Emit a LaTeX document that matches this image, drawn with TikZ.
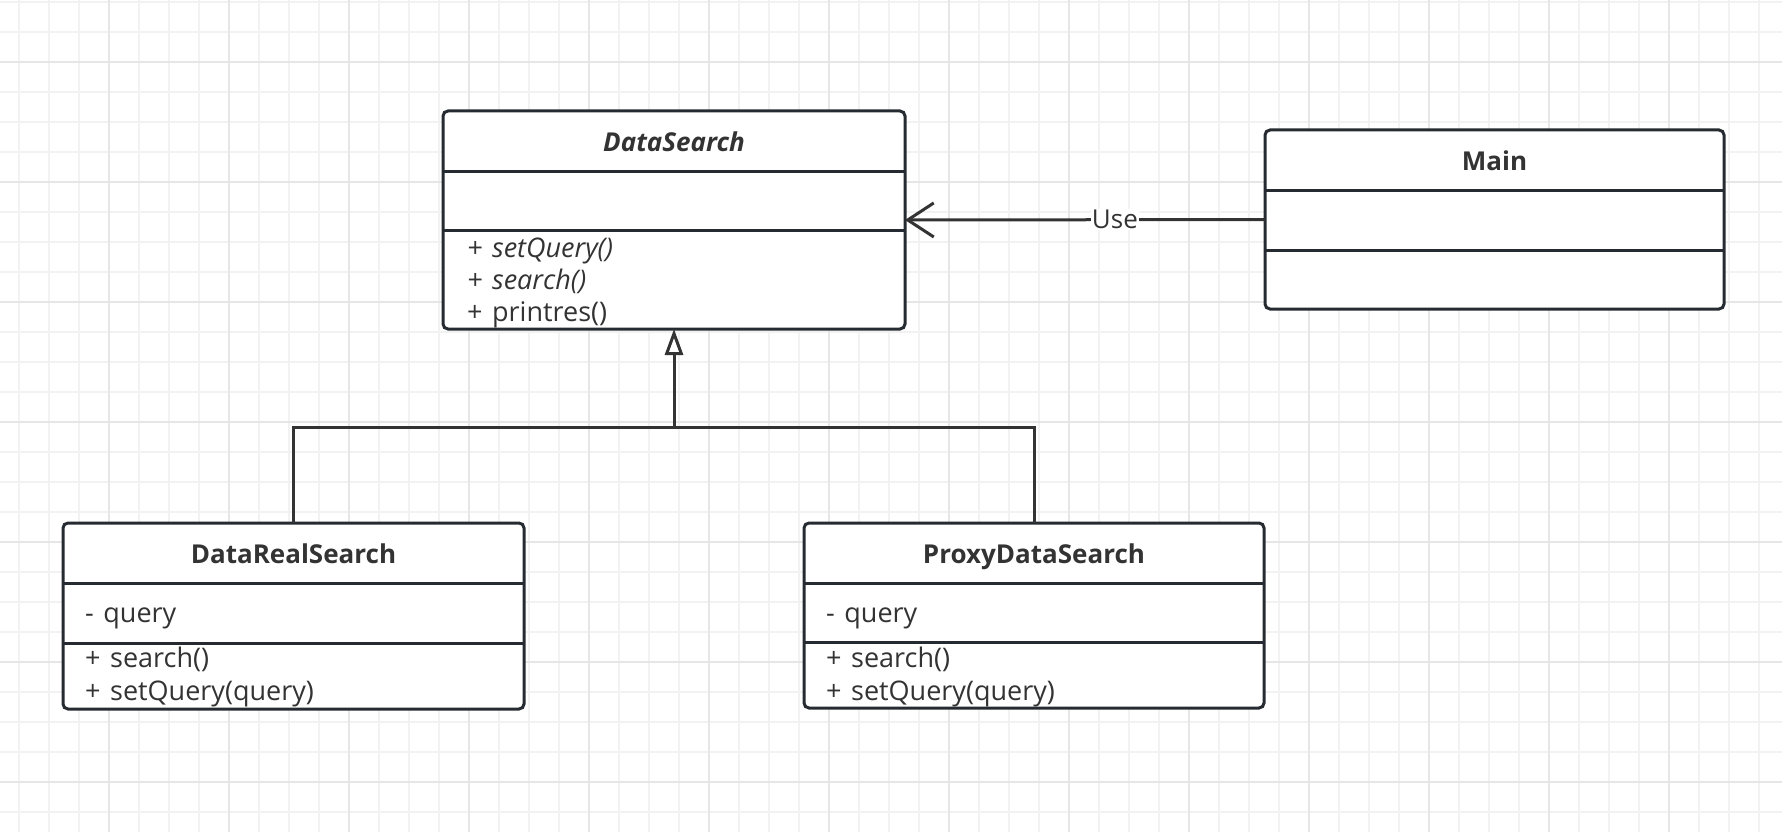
\documentclass[tikz,border=0pt]{standalone}
\usepackage{fontspec}
\setmainfont{Open Sans}
\usetikzlibrary{arrows.meta,calc}
\definecolor{stroke}{HTML}{262B31}
\definecolor{txt}{HTML}{333333}
\definecolor{gridminor}{HTML}{F2F2F2}
\definecolor{gridmajor}{HTML}{E6E6E6}
\newcommand\vis[1]{#1\hspace{9.5pt}}
\tikzset{
  classbox/.style={draw=stroke, line width=3pt, fill=white, rounded corners=5pt, inner sep=0pt, outer sep=0pt, anchor=north west},
  divider/.style={draw=stroke, line width=3pt},
  titletext/.style={text=txt, font=\fontsize{26}{30}\selectfont\bfseries, inner sep=0pt, anchor=base},
  membertext/.style={text=txt, font=\fontsize{27}{32}\selectfont, inner sep=0pt, anchor=base west},
  conn/.style={draw=txt, line width=3pt},
  uselabel/.style={fill=white, text=txt, font=\fontsize{26}{30}\selectfont, inner sep=1pt},
}
\begin{document}
\begin{tikzpicture}[x=1pt,y=-1pt]
\useasboundingbox (0,0) rectangle (1782,832);
\fill[white] (0,0) rectangle (1782,832);
% grid
\foreach \x in {19,49,...,1782} \draw[gridminor, line width=1.6pt] (\x,0) -- (\x,832);
\foreach \y in {2,32,...,832} \draw[gridminor, line width=1.6pt] (0,\y) -- (1782,\y);
\foreach \x in {109,229,...,1782} \draw[gridmajor, line width=1.6pt] (\x,0) -- (\x,832);
\foreach \y in {62,182,...,832} \draw[gridmajor, line width=1.6pt] (0,\y) -- (1782,\y);

% DataSearch
\node[classbox, minimum width=462pt, minimum height=218pt] (ds) at (443,111) {};
\draw[divider] ($(ds.north west)+(0,60)$) -- ($(ds.north east)+(0,60)$);
\draw[divider] ($(ds.north west)+(0,119)$) -- ($(ds.north east)+(0,119)$);
\node[titletext] (dsT) at (674,151) {\itshape DataSearch};
\node[membertext] (dsM1) at (467,257) {\itshape \vis{+}setQuery()};
\node[membertext] (dsM2) at (467,289) {\itshape \vis{+}search()};
\node[membertext] (dsM3) at (467,321) {\vis{+}printres()};

% Main
\node[classbox, minimum width=459pt, minimum height=179pt] (main) at (1265,130) {};
\draw[divider] ($(main.north west)+(0,60)$) -- ($(main.north east)+(0,60)$);
\draw[divider] ($(main.north west)+(0,120)$) -- ($(main.north east)+(0,120)$);
\node[titletext] (mainT) at (1494.5,170) {Main};

% DataRealSearch
\node[classbox, minimum width=461pt, minimum height=186pt] (drs) at (63,523) {};
\draw[divider] ($(drs.north west)+(0,60)$) -- ($(drs.north east)+(0,60)$);
\draw[divider] ($(drs.north west)+(0,120)$) -- ($(drs.north east)+(0,120)$);
\node[titletext] (drsT) at (293.5,563) {DataRealSearch};
\node[membertext] (drsA) at (85,622) {\vis{-}query};
\node[membertext] (drsM1) at (85,667) {\vis{+}search()};
\node[membertext] (drsM2) at (85,700) {\vis{+}setQuery(query)};

% ProxyDataSearch
\node[classbox, minimum width=460pt, minimum height=185pt] (pds) at (804,523) {};
\draw[divider] ($(pds.north west)+(0,60)$) -- ($(pds.north east)+(0,60)$);
\draw[divider] ($(pds.north west)+(0,119)$) -- ($(pds.north east)+(0,119)$);
\node[titletext] (pdsT) at (1034,563) {ProxyDataSearch};
\node[membertext] (pdsA) at (826,622) {\vis{-}query};
\node[membertext] (pdsM1) at (826,667) {\vis{+}search()};
\node[membertext] (pdsM2) at (826,700) {\vis{+}setQuery(query)};

% Use association
\draw[conn, -{Straight Barb[length=26pt, width=34pt, line width=3pt]}] (main.west) -- node[uselabel, pos=0.417] (uselbl) {Use} (ds.east);

% Inheritance
\coordinate (junc) at (674,427);
\draw[conn] (drs.north) |- (junc) -| (pds.north);
\draw[conn, -{Triangle[open, length=26pt, width=18pt, line width=3pt, fill=white]}] (junc) -- (ds.south);
\end{tikzpicture}
\end{document}
